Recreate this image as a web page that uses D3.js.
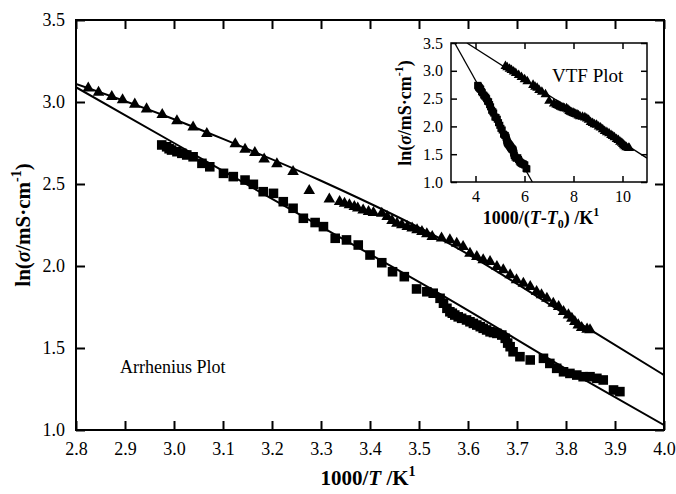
<!DOCTYPE html>
<html><head><meta charset="utf-8">
<script src="https://cdn.jsdelivr.net/npm/d3@7"></script>
<style>
body{margin:0;background:#fff}
svg text{font-family:"Liberation Serif","DejaVu Serif","Times New Roman",serif !important;fill:#000}
</style>
</head><body><svg id="c" width="676" height="494" font-family="Liberation Serif, serif"></svg>
<script>
// ---- data ----
const triX=[2.825,2.846,2.873,2.895,2.920,2.944,2.976,3.006,3.039,3.067,3.125,3.145,3.165,3.184,3.210,3.243,3.276,3.317,3.338,3.348,3.358,3.368,3.375,3.386,3.397,3.407,3.424,3.435,3.445,3.455,3.465,3.476,3.486,3.496,3.506,3.516,3.527,3.546,3.563,3.577,3.590,3.604,3.618,3.631,3.645,3.659,3.672,3.686,3.699,3.713,3.727,3.740,3.750,3.761,3.774,3.785,3.795,3.805,3.812,3.818,3.825,3.832,3.843,3.849];
const triY=[3.084,3.059,3.032,3.012,2.986,2.957,2.923,2.885,2.846,2.807,2.744,2.711,2.691,2.652,2.622,2.575,2.459,2.407,2.392,2.382,2.372,2.362,2.352,2.341,2.331,2.325,2.321,2.301,2.276,2.260,2.250,2.240,2.230,2.220,2.209,2.195,2.179,2.170,2.159,2.138,2.118,2.077,2.057,2.037,2.026,1.996,1.976,1.945,1.915,1.894,1.874,1.843,1.823,1.803,1.772,1.752,1.721,1.701,1.681,1.660,1.640,1.624,1.614,1.610];
const sqX=[2.975,2.985,2.990,2.995,3.006,3.016,3.026,3.039,3.057,3.073,3.101,3.121,3.145,3.162,3.182,3.203,3.223,3.243,3.264,3.288,3.305,3.329,3.352,3.376,3.400,3.424,3.446,3.470,3.495,3.516,3.529,3.543,3.550,3.557,3.563,3.568,3.573,3.580,3.587,3.597,3.604,3.611,3.618,3.625,3.631,3.638,3.645,3.652,3.659,3.669,3.676,3.681,3.686,3.692,3.706,3.727,3.754,3.767,3.781,3.795,3.808,3.822,3.835,3.849,3.863,3.876,3.897,3.910];
const sqY=[2.738,2.727,2.715,2.707,2.697,2.687,2.677,2.666,2.626,2.605,2.565,2.545,2.524,2.498,2.453,2.443,2.392,2.352,2.291,2.265,2.240,2.169,2.159,2.128,2.067,2.020,1.965,1.935,1.860,1.843,1.834,1.803,1.773,1.742,1.721,1.712,1.701,1.690,1.681,1.671,1.660,1.650,1.640,1.630,1.620,1.610,1.599,1.594,1.589,1.579,1.559,1.530,1.508,1.477,1.447,1.427,1.437,1.406,1.376,1.355,1.345,1.335,1.325,1.325,1.315,1.305,1.244,1.234];
// fitted curves
const fitTriX=[2.8,3.0,3.1,3.3,3.56,3.85,4.0];
const fitTriY=[3.11,2.895,2.775,2.52,2.14,1.61,1.335];
const fitSqX=[2.8,3.0,3.3,3.56,3.83,4.0];
const fitSqY=[3.09,2.75,2.24,1.80,1.32,1.03];
// VTF inset: T0 values (K), lines' end points
const T0Tri=162.5, T0Sq=91.7;
const vtfTriLineX=[3.65,11.0], vtfTriLineY=[3.5,1.43];
const vtfSqLineX=[3.15,6.32], vtfSqLineY=[3.5,1.0];
// ticks
const xTicks=[2.8,2.9,3.0,3.1,3.2,3.3,3.4,3.5,3.6,3.7,3.8,3.9,4.0];
const yTicks=[1.0,1.5,2.0,2.5,3.0,3.5];
const inXTicks=[4,6,8,10];
const inYTicks=[1.0,1.5,2.0,2.5,3.0,3.5];

const FF='"Liberation Serif","DejaVu Serif","Times New Roman",serif';
const svg=d3.select("#c");
const x=d3.scaleLinear().domain([2.8,4.0]).range([76,664]);
const y=d3.scaleLinear().domain([1.0,3.5]).range([430,20]);
const f1=d3.format(".1f");

function styleAxis(g,fs,sw){
  g.attr("font-family",null).attr("font-size",null);
  g.select(".domain").remove();
  g.selectAll(".tick line").attr("stroke","#000").attr("stroke-width",sw);
  g.selectAll(".tick text").attr("font-size",fs).attr("fill","#000").style("font-family",FF);
}
// main axes
svg.append("g").attr("transform","translate(0,430)")
 .call(d3.axisBottom(x).tickValues(xTicks).tickFormat(f1).tickSize(-9).tickSizeOuter(0).tickPadding(12))
 .call(g=>styleAxis(g,18,2));
svg.append("g").attr("transform","translate(0,20)")
 .call(d3.axisTop(x).tickValues(xTicks).tickFormat("").tickSize(-9).tickSizeOuter(0))
 .call(g=>styleAxis(g,18,2));
svg.append("g").attr("transform","translate(76,0)")
 .call(d3.axisLeft(y).tickValues(yTicks).tickFormat(f1).tickSize(-9).tickSizeOuter(0).tickPadding(11))
 .call(g=>styleAxis(g,18,2));
svg.append("g").attr("transform","translate(664,0)")
 .call(d3.axisRight(y).tickValues(yTicks).tickFormat("").tickSize(-9).tickSizeOuter(0))
 .call(g=>styleAxis(g,18,2));
svg.append("rect").attr("x",76).attr("y",20).attr("width",588).attr("height",410)
 .attr("fill","none").attr("stroke","#000").attr("stroke-width",2);

svg.append("clipPath").attr("id","mclip").append("rect").attr("x",76).attr("y",20).attr("width",588).attr("height",410);

const lineM=d3.line().x(d=>x(d[0])).y(d=>y(d[1])).curve(d3.curveMonotoneX);
svg.append("path").attr("clip-path","url(#mclip)").attr("d",lineM(d3.zip(fitTriX,fitTriY)))
 .attr("fill","none").attr("stroke","#000").attr("stroke-width",2);
svg.append("path").attr("clip-path","url(#mclip)").attr("d",lineM(d3.zip(fitSqX,fitSqY)))
 .attr("fill","none").attr("stroke","#000").attr("stroke-width",2);

const triSym=d3.symbol(d3.symbolTriangle,58)();
const sqSym=d3.symbol(d3.symbolSquare,92)();
svg.append("g").selectAll("path").data(d3.zip(triX,triY)).join("path")
 .attr("d",triSym).attr("transform",d=>`translate(${x(d[0])},${y(d[1])})`).attr("fill","#000");
svg.append("g").selectAll("path").data(d3.zip(sqX,sqY)).join("path")
 .attr("d",sqSym).attr("transform",d=>`translate(${x(d[0])},${y(d[1])})`).attr("fill","#000");

svg.append("text").attr("x",120).attr("y",373).attr("font-size",18).style("font-family",FF).text("Arrhenius Plot");

// main axis titles
const yt=svg.append("text").attr("transform","translate(30,225) rotate(-90)").attr("text-anchor","middle")
 .attr("font-size",21).attr("font-weight","bold").style("font-family",FF);
yt.append("tspan").text("ln(");
yt.append("tspan").attr("font-style","italic").text("σ");
yt.append("tspan").text("/mS·cm");
yt.append("tspan").attr("font-size",14).attr("dy",-9).text("-1");
yt.append("tspan").attr("dy",9).text(")");

const xt=svg.append("text").attr("x",368).attr("y",485).attr("text-anchor","middle")
 .attr("font-size",21).attr("font-weight","bold").style("font-family",FF);
xt.append("tspan").text("1000/");
xt.append("tspan").attr("font-style","italic").text("T");
xt.append("tspan").text(" /K");
xt.append("tspan").attr("font-size",14).attr("dy",-9).text("1");

// ---- inset ----
const xi=d3.scaleLinear().domain([3,11]).range([451,647]);
const yi=d3.scaleLinear().domain([1.0,3.5]).range([182,43]);
const ins=svg.append("g");
ins.append("rect").attr("x",451).attr("y",43).attr("width",196).attr("height",139).attr("fill","#fff");
ins.append("g").attr("transform","translate(0,182)")
 .call(d3.axisBottom(xi).tickValues(inXTicks).tickFormat(d3.format("d")).tickSize(-6).tickSizeOuter(0).tickPadding(9))
 .call(g=>styleAxis(g,16,1.5));
ins.append("g").attr("transform","translate(0,43)")
 .call(d3.axisTop(xi).tickValues(inXTicks).tickFormat("").tickSize(-6).tickSizeOuter(0))
 .call(g=>styleAxis(g,16,1.5));
ins.append("g").attr("transform","translate(451,0)")
 .call(d3.axisLeft(yi).tickValues(inYTicks).tickFormat(f1).tickSize(-6).tickSizeOuter(0).tickPadding(8))
 .call(g=>styleAxis(g,16,1.5));
ins.append("g").attr("transform","translate(647,0)")
 .call(d3.axisRight(yi).tickValues(inYTicks).tickFormat("").tickSize(-6).tickSizeOuter(0))
 .call(g=>styleAxis(g,16,1.5));
svg.append("clipPath").attr("id","iclip").append("rect").attr("x",451).attr("y",43).attr("width",196).attr("height",139);
const lineI=d3.line().x(d=>xi(d[0])).y(d=>yi(d[1]));
ins.append("path").attr("clip-path","url(#iclip)").attr("d",lineI(d3.zip(vtfTriLineX,vtfTriLineY)))
 .attr("fill","none").attr("stroke","#000").attr("stroke-width",1.3);
ins.append("path").attr("clip-path","url(#iclip)").attr("d",lineI(d3.zip(vtfSqLineX,vtfSqLineY)))
 .attr("fill","none").attr("stroke","#000").attr("stroke-width",1.3);
const vtf=(xv,t0)=>1000/(1000/xv-t0);
const triSymS=d3.symbol(d3.symbolTriangle,42)();
const sqSymS=d3.symbol(d3.symbolSquare,50)();
ins.append("g").selectAll("path").data(d3.zip(triX,triY)).join("path")
 .attr("d",triSymS).attr("transform",d=>`translate(${xi(vtf(d[0],T0Tri))},${yi(d[1])})`).attr("fill","#000");
ins.append("g").selectAll("path").data(d3.zip(sqX,sqY)).join("path")
 .attr("d",sqSymS).attr("transform",d=>`translate(${xi(vtf(d[0],T0Sq))},${yi(d[1])})`).attr("fill","#000");
ins.append("rect").attr("x",451).attr("y",43).attr("width",196).attr("height",139)
 .attr("fill","none").attr("stroke","#000").attr("stroke-width",1.5);
ins.append("text").attr("x",552).attr("y",82).attr("font-size",19).style("font-family",FF).text("VTF Plot");

const iyt=ins.append("text").attr("transform","translate(411,113) rotate(-90)").attr("text-anchor","middle")
 .attr("font-size",18).attr("font-weight","bold").style("font-family",FF);
iyt.append("tspan").text("ln(");
iyt.append("tspan").attr("font-style","italic").text("σ");
iyt.append("tspan").text("/mS·cm");
iyt.append("tspan").attr("font-size",12).attr("dy",-8).text("-1");
iyt.append("tspan").attr("dy",8).text(")");

const ixt=ins.append("text").attr("x",541).attr("y",224).attr("text-anchor","middle")
 .attr("font-size",18).attr("font-weight","bold").style("font-family",FF);
ixt.append("tspan").text("1000/(");
ixt.append("tspan").attr("font-style","italic").text("T");
ixt.append("tspan").text("-");
ixt.append("tspan").attr("font-style","italic").text("T");
ixt.append("tspan").attr("font-size",12).attr("dy",4).text("0");
ixt.append("tspan").attr("dy",-4).text(") /K");
ixt.append("tspan").attr("font-size",12).attr("dy",-8).text("1");
</script></body></html>
